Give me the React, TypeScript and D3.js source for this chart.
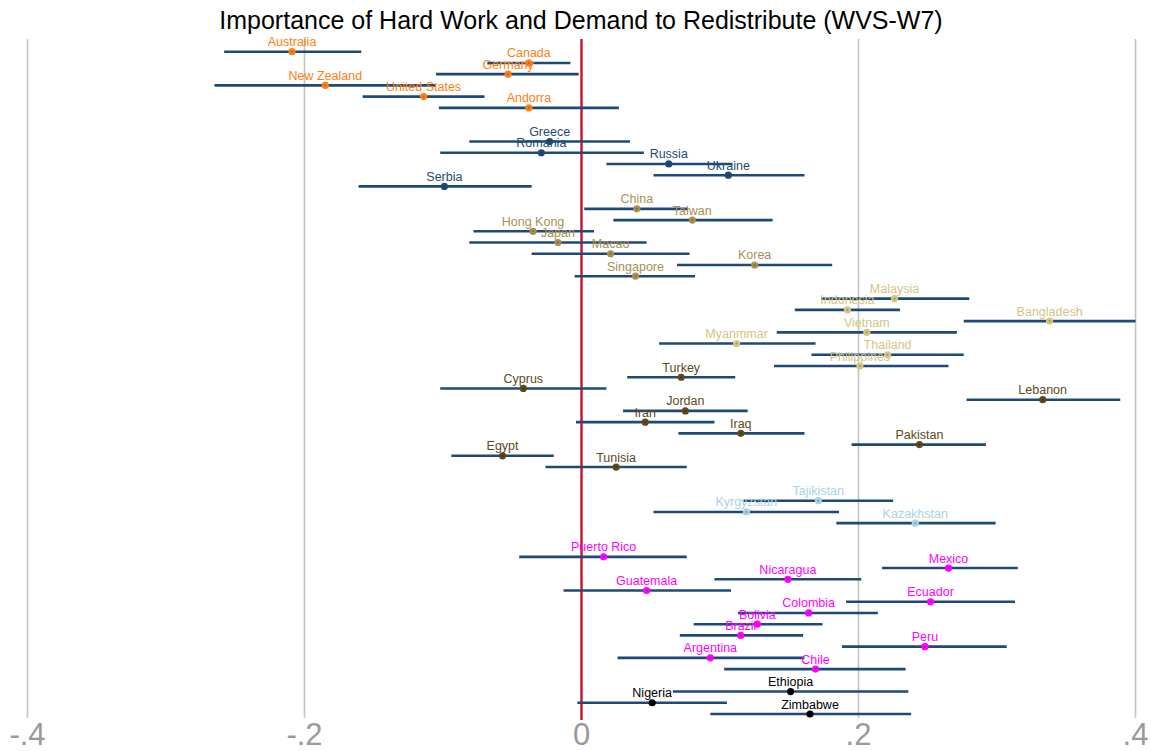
import React, { useRef, useEffect } from 'react';
import * as d3 from 'd3';

// row order, "" entries are spacer rows between regions
const rows = [
  'Australia', 'Canada', 'Germany', 'New Zealand', 'United States', 'Andorra', '', '',
  'Greece', 'Romania', 'Russia', 'Ukraine', 'Serbia', '',
  'China', 'Taiwan', 'Hong Kong', 'Japan', 'Macao', 'Korea', 'Singapore', '',
  'Malaysia', 'Indonesia', 'Bangladesh', 'Vietnam', 'Myanmmar', 'Thailand', 'Philippines',
  'Turkey', 'Cyprus', 'Lebanon', 'Jordan', 'Iran', 'Iraq', 'Pakistan', 'Egypt', 'Tunisia', '', '',
  'Tajikistan', 'Kyrgyzstan', 'Kazakhstan', '', '',
  'Puerto Rico', 'Mexico', 'Nicaragua', 'Guatemala', 'Ecuador', 'Colombia', 'Bolivia', 'Brazil',
  'Peru', 'Argentina', 'Chile', '',
  'Ethiopia', 'Nigeria', 'Zimbabwe',
];

// region of each country
const western = ['Australia', 'Canada', 'Germany', 'New Zealand', 'United States', 'Andorra'];
const eastEurope = ['Greece', 'Romania', 'Russia', 'Ukraine', 'Serbia'];
const eastAsia = ['China', 'Taiwan', 'Hong Kong', 'Japan', 'Macao', 'Korea', 'Singapore'];
const seAsia = ['Malaysia', 'Indonesia', 'Bangladesh', 'Vietnam', 'Myanmmar', 'Thailand', 'Philippines'];
const mena = ['Turkey', 'Cyprus', 'Lebanon', 'Jordan', 'Iran', 'Iraq', 'Pakistan', 'Egypt', 'Tunisia'];
const centralAsia = ['Tajikistan', 'Kyrgyzstan', 'Kazakhstan'];
const latam = ['Puerto Rico', 'Mexico', 'Nicaragua', 'Guatemala', 'Ecuador', 'Colombia', 'Bolivia', 'Brazil', 'Peru', 'Argentina', 'Chile'];
const africa = ['Ethiopia', 'Nigeria', 'Zimbabwe'];

// point estimates, in the order of the country lists above
const estimates = [
  -0.209, -0.038, -0.053, -0.185, -0.114, -0.038,
  -0.023, -0.029, 0.063, 0.106, -0.099,
  0.040, 0.080, -0.035, -0.017, 0.021, 0.125, 0.039,
  0.226, 0.192, 0.338, 0.206, 0.112, 0.221, 0.201,
  0.072, -0.042, 0.333, 0.075, 0.046, 0.115, 0.244, -0.057, 0.025,
  0.171, 0.119, 0.241,
  0.016, 0.265, 0.149, 0.047, 0.252, 0.164, 0.127, 0.115, 0.248, 0.093, 0.169,
  0.151, 0.051, 0.165,
];
const lower = [
  -0.258, -0.068, -0.105, -0.265, -0.158, -0.103,
  -0.081, -0.102, 0.018, 0.052, -0.161,
  0.002, 0.023, -0.078, -0.081, -0.036, 0.069, -0.005,
  0.173, 0.154, 0.276, 0.141, 0.056, 0.166, 0.139,
  0.033, -0.102, 0.278, 0.030, -0.004, 0.070, 0.195, -0.094, -0.026,
  0.117, 0.052, 0.184,
  -0.045, 0.217, 0.096, -0.013, 0.191, 0.113, 0.081, 0.071, 0.188, 0.026, 0.103,
  0.066, -0.003, 0.093,
];
const upper = [
  -0.159, -0.008, -0.002, -0.105, -0.070, 0.027,
  0.035, 0.045, 0.109, 0.161, -0.036,
  0.077, 0.138, 0.009, 0.047, 0.078, 0.181, 0.082,
  0.280, 0.230, 0.400, 0.271, 0.169, 0.276, 0.265,
  0.111, 0.018, 0.389, 0.120, 0.096, 0.161, 0.292, -0.020, 0.076,
  0.225, 0.186, 0.299,
  0.076, 0.315, 0.202, 0.108, 0.313, 0.214, 0.174, 0.160, 0.307, 0.161, 0.234,
  0.236, 0.105, 0.238,
];

const xTicks = [-0.4, -0.2, 0, 0.2, 0.4];
const xTickLabels = ['-.4', '-.2', '0', '.2', '.4'];

const groups = [
  { names: western, color: '#ff8010', dot: '#c85a00' },
  { names: eastEurope, color: '#1f4a78', dot: '#163a60' },
  { names: eastAsia, color: '#a8914f', dot: '#7d6a36' },
  { names: seAsia, color: '#d4c584', dot: '#a0914f' },
  { names: mena, color: '#5e4a1c', dot: '#3e3010' },
  { names: centralAsia, color: '#a9d2e5', dot: '#6a9cb5' },
  { names: latam, color: '#ff00ff', dot: '#b000b0' },
  { names: africa, color: '#000000', dot: '#000000' },
];

interface Item { name: string; est: number; lo: number; hi: number; color: string; dot: string; }

const App: React.FC = () => {
  const ref = useRef<SVGSVGElement>(null);

  useEffect(() => {
    if (!ref.current) return;
    const width = 1151;
    const height = 751;
    const svg = d3.select(ref.current);
    svg.selectAll('*').remove();

    const items: Item[] = [];
    let k = 0;
    groups.forEach(g => {
      g.names.forEach(n => {
        items.push({ name: n, est: estimates[k], lo: lower[k], hi: upper[k], color: g.color, dot: g.dot });
        k++;
      });
    });

    const x = d3.scaleLinear().domain([-0.4, 0.4]).range([27.5, 1135.5]);
    const y = d3.scalePoint<number>().domain(d3.range(rows.length)).range([51.7, 714]);
    const rowOf = (name: string) => y(rows.indexOf(name)) as number;

    svg.append('rect').attr('width', width).attr('height', height).attr('fill', 'white');

    // grid lines
    svg.append('g').selectAll('line')
      .data(xTicks.filter(t => t !== 0))
      .enter().append('line')
      .attr('x1', d => x(d)).attr('x2', d => x(d))
      .attr('y1', 39).attr('y2', 718)
      .attr('stroke', '#c4c4c4').attr('stroke-width', 1.6);

    // zero line
    svg.append('line')
      .attr('x1', x(0)).attr('x2', x(0))
      .attr('y1', 39).attr('y2', 720)
      .attr('stroke', '#c8102e').attr('stroke-width', 2.4);

    // tick labels
    svg.append('g').selectAll('text')
      .data(xTicks)
      .enter().append('text')
      .attr('x', d => x(d)).attr('y', 745)
      .attr('text-anchor', 'middle')
      .attr('font-family', 'Liberation Sans Narrow, Liberation Sans, Arial, sans-serif')
      .attr('font-size', 31)
      .attr('fill', '#9a9a9a')
      .text((d, i) => xTickLabels[i]);

    // confidence intervals
    svg.append('g').selectAll('line')
      .data(items)
      .enter().append('line')
      .attr('x1', d => x(d.lo)).attr('x2', d => x(d.hi))
      .attr('y1', d => rowOf(d.name)).attr('y2', d => rowOf(d.name))
      .attr('stroke', '#1f4a78').attr('stroke-width', 2.6);

    // labels
    svg.append('g').selectAll('text')
      .data(items)
      .enter().append('text')
      .attr('x', d => x(d.est)).attr('y', d => rowOf(d.name) - 5.5)
      .attr('text-anchor', 'middle')
      .attr('font-family', 'Liberation Sans, Arial, sans-serif')
      .attr('font-size', 12.5)
      .attr('fill', d => d.color)
      .text(d => d.name);

    // points
    const pts = svg.append('g').selectAll('g')
      .data(items)
      .enter().append('g');
    pts.append('circle')
      .attr('cx', d => x(d.est)).attr('cy', d => rowOf(d.name))
      .attr('r', 3.6).attr('fill', d => d.color);
    pts.append('circle')
      .attr('cx', d => x(d.est)).attr('cy', d => rowOf(d.name))
      .attr('r', 1).attr('fill', d => d.dot);

    // title
    svg.append('text')
      .attr('x', 581).attr('y', 29)
      .attr('text-anchor', 'middle')
      .attr('font-family', 'Liberation Sans, Arial, sans-serif')
      .attr('font-size', 25)
      .attr('fill', '#000')
      .text('Importance of Hard Work and Demand to Redistribute (WVS-W7)');
  }, []);

  return (
    <svg ref={ref} width={1151} height={751}
      style={{ position: 'absolute', left: 0, top: 0, display: 'block' }} />
  );
};

export default App;
